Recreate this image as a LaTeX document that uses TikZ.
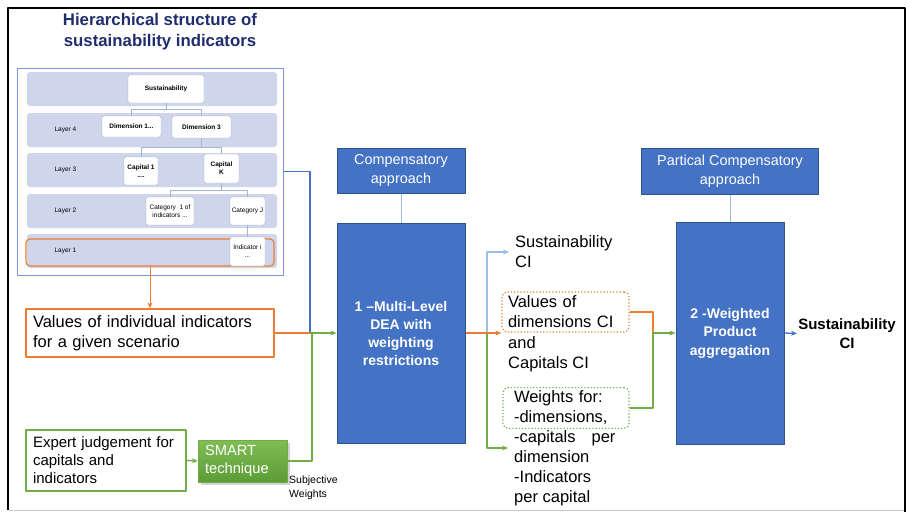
\documentclass[tikz,border=0pt]{standalone}
\usepackage{fontspec}
\setmainfont{Liberation Sans}
\usetikzlibrary{shadows,arrows.meta}
\definecolor{deablue}{RGB}{68,114,196}
\definecolor{deaedge}{RGB}{47,82,143}
\definecolor{orng}{RGB}{237,125,49}
\definecolor{grn}{RGB}{112,173,71}
\definecolor{grnlight}{RGB}{128,190,84}
\definecolor{grndark}{RGB}{92,156,54}
\definecolor{navy}{RGB}{31,45,110}
\definecolor{band}{RGB}{207,213,234}
\definecolor{panelln}{RGB}{120,150,210}
\definecolor{treeln}{RGB}{165,180,210}
\definecolor{lnk}{RGB}{157,190,230}
\begin{document}
\begin{tikzpicture}[x=1pt, y=-1pt, line join=round, >={Stealth[length=6pt,width=5pt]},
  hbox/.style={draw=treeln, fill=white, rounded corners=2pt, inner sep=1pt, align=center, font=\fontsize{6.5}{8}\selectfont},
  hbold/.style={hbox, font=\bfseries\fontsize{6.5}{8}\selectfont},
  tree/.style={draw=treeln, line width=0.6pt},
  bigbox/.style={draw=deaedge, fill=deablue, line width=1pt, text=white, align=center},
  txt/.style={font=\fontsize{16.5}{20}\selectfont, align=left},
  orln/.style={draw=orng, line width=1.3pt},
  grln/.style={draw=grn, line width=1.3pt},
  blln/.style={draw=deablue, line width=1.3pt}]
\useasboundingbox (0,0) rectangle (907,512);
\draw[line width=2pt] (8,510) -- (8,8) -- (905,8) -- (905,512);
\draw[black!20, line width=1pt] (9,510.5) -- (904,510.5);
\node[text=navy, font=\bfseries\fontsize{16.8}{21}\selectfont, align=center] (title) at (160,32) {Hierarchical structure of\\sustainability indicators};
\node[draw=panelln, line width=1pt, minimum width=266pt, minimum height=207pt] (panel) at (150,171.5) {};
\foreach \yc/\lab in {89/{},130/Layer 4,170/Layer 3,211/Layer 2,251/Layer 1}{
  \fill[band, rounded corners=3pt] (27,\yc-17) rectangle (277,\yc+17);
  \node[font=\fontsize{6.5}{8}\selectfont, anchor=west] at (51,\yc) {\lab};
}
\node[draw=orng, line width=1.2pt, rounded corners=4pt, minimum width=248pt, minimum height=27pt] (lay1) at (150,252.5) {};
\node[hbold, minimum width=76pt, minimum height=28pt] (sus) at (166,89) {Sustainability};
\node[hbold, minimum width=59pt, minimum height=21pt] (dimA) at (131.5,126.5) {Dimension 1...};
\node[hbold, minimum width=59pt, minimum height=22pt] (dimB) at (201.5,127) {Dimension 3};
\node[hbold, minimum width=34pt, minimum height=28pt] (capA) at (141,171) {Capital 1\\....};
\node[hbold, minimum width=35pt, minimum height=29pt] (capK) at (221.5,168.5) {Capital\\K};
\node[hbox, minimum width=48pt, minimum height=28pt] (catA) at (170,211) {Category\ \ 1 of\\indicators ...};
\node[hbox, minimum width=35pt, minimum height=28pt] (catJ) at (247.5,211) {Category J};
\node[hbox, minimum width=35pt, minimum height=29pt] (indI) at (247.5,251.5) {Indicator i\\...};
\draw[tree] (sus.south) -- ++(0,6) -| (dimA.north);
\draw[tree] (sus.south) -- ++(0,6) -| (dimB.north);
\draw[tree] (dimB.south) -- ++(0,9) -| (capA.north);
\draw[tree] (dimB.south) -- ++(0,9) -| (capK.north);
\draw[tree] (capK.south) -- ++(0,7) -| (catA.north);
\draw[tree] (capK.south) -- ++(0,7) -| (catJ.north);
\draw[tree] (catJ) -- (indI);
\node[txt, draw=orng, line width=1.3pt, minimum height=48pt, text width=234pt, inner xsep=7pt] (vals) at (150,333) {Values of individual indicators\\for a given scenario};
\node[txt, draw=grn, line width=1.3pt, font=\fontsize{15}{18}\selectfont, minimum height=61pt, text width=146pt, inner xsep=7pt] (expert) at (106,460.5) {Expert judgement for\\capitals and\\indicators};
\node[txt, font=\fontsize{14.7}{18}\selectfont, text=white, top color=grnlight, bottom color=grndark, draw=grn, drop shadow={opacity=0.35}, minimum height=42pt, text width=75pt, inner xsep=7pt] (smart) at (242.5,461) {SMART\\technique};
\node[anchor=north west, inner sep=1pt, align=left, font=\fontsize{10.5}{14}\selectfont] (subj) at (288,475) {Subjective\\Weights};
\node[bigbox, font=\fontsize{14.4}{19}\selectfont, minimum width=128pt, minimum height=45pt] (comp) at (401,170.5) {Compensatory\\approach};
\node[bigbox, font=\bfseries\fontsize{14}{18}\selectfont, minimum width=128pt, minimum height=220pt] (dea) at (401,333) {1 –Multi-Level\\DEA with\\weighting\\restrictions};
\node[bigbox, font=\fontsize{14.4}{19}\selectfont, minimum width=177pt, minimum height=46pt] (pcomp) at (730,171) {Partical Compensatory\\approach};
\node[bigbox, font=\bfseries\fontsize{14}{18.5}\selectfont, minimum width=108pt, minimum height=222pt] (wp) at (730,333) {2 -Weighted\\Product\\aggregation};
\draw[lnk, line width=1pt] (comp) -- (dea);
\draw[lnk, line width=1pt] (pcomp) -- (wp);
\node[txt, anchor=west, inner xsep=6pt] (susCI) at (509,252) {Sustainability\\CI};
\node[txt, draw=orng, dotted, line width=1.2pt, rounded corners=5pt, minimum width=127pt, minimum height=40pt, text width=115pt, inner xsep=6pt] (valsCI) at (565.5,312) {Values of\\dimensions CI};
\node[txt, anchor=west, inner xsep=6pt] (valsMore) at (502,354) {and\\Capitals CI};
\node[txt, draw=grn, dotted, line width=1.2pt, rounded corners=5pt, minimum width=126pt, minimum height=40pt, text width=104pt, inner xsep=11pt] (wts) at (566,408) {Weights for:\\-dimensions,};
\node[txt, anchor=west, inner xsep=6pt] (wtsMore) at (508,468) {-capitals\hspace{16pt}per\\dimension\\-Indicators\\per capital};
\node[font=\bfseries\fontsize{15}{19}\selectfont, align=center, inner sep=1pt] (outCI) at (847,333.5) {Sustainability\\CI};
\coordinate (jn) at (310,333);
\coordinate (jg) at (312,333);
\coordinate (br) at (487,333);
\coordinate (wend) at (508,448);
\coordinate (mg) at (653,333);
\draw[orng, line width=1pt, ->] (lay1.south) -- (vals.north);
\draw[blln] (panel.east) -| (jn);
\draw[orln] (vals.east) -- (jn);
\draw[grln] (smart.east) -| (jg);
\draw[grln, ->] (jn) -- (dea.west);
\draw[grln, ->] (expert.east) -- (smart.west);
\draw[blln, draw=lnk, ->] (br) |- (susCI.west);
\draw[grln, ->] (br) |- (wend);
\draw[orln, ->] (dea.east) -- (valsCI.west |- dea.east);
\draw[orln] (valsCI.east) -| (mg);
\draw[grln] (wts.east) -| (mg);
\draw[grln, ->] (mg) -- (wp.west);
\draw[blln, ->] (wp.east) -- (outCI.west);
\end{tikzpicture}
\end{document}
